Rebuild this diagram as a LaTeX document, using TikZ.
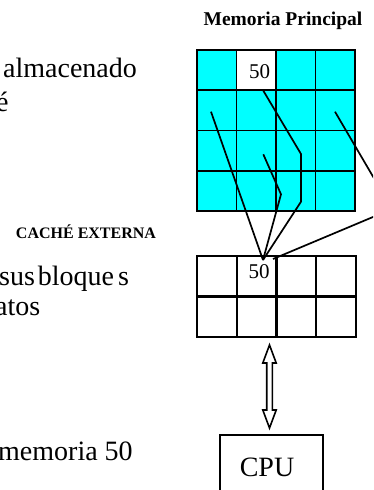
\documentclass[tikz,border=0pt]{standalone}
\usepackage{fontspec}
\setmainfont{Liberation Serif}
\definecolor{memcyan}{HTML}{00FFFF}
\begin{document}
\begin{tikzpicture}[x=1pt,y=-1pt,
  mcell/.style={draw, line width=1.8pt, minimum width=39.5pt, minimum height=40.25pt, inner sep=0pt},
  ccell/.style={draw, line width=2.2pt, minimum width=39.75pt, minimum height=40.5pt, inner sep=0pt, fill=white},
  link/.style={line width=1.7pt, line join=miter},
  bodytext/.style={inner sep=0pt, font=\fontsize{28}{33}\selectfont},
  numtext/.style={inner sep=0pt, font=\fontsize{21}{24}\selectfont},
  heading/.style={inner sep=0pt, font=\bfseries\fontsize{19.5}{22}\selectfont},
  subheading/.style={inner sep=0pt, font=\bfseries\fontsize{16}{18}\selectfont},
  busline/.style={line width=1.6pt, line join=miter, fill=white}]
\clip (0,0) rectangle (373,490);
\fill[white] (0,0) rectangle (373,490);

% main memory: 4x4 blocks, block 50 left unshaded
\foreach \r in {1,...,4}{\foreach \c in {1,...,4}{
  \ifnum\r\c=12 \def\cellfill{white}\else\def\cellfill{memcyan}\fi
  \node[mcell, fill=\cellfill] (m\r\c) at ({197+39.5*(\c-0.5)},{50+40.25*(\r-0.5)}) {};
}}
\node[numtext] (memnum) at (259.5,71.5) {50};

% external cache: 2x4 lines
\foreach \r in {1,2}{\foreach \c in {1,...,4}{
  \node[ccell] (k\r\c) at ({197+39.75*(\c-0.5)},{256+40.5*(\r-0.5)}) {};
}}
\node[numtext] (cachenum) at (259,272) {50};

% mapping of memory blocks onto cache line 50
\coordinate (hub) at (263,260);
\coordinate (hubr) at (273,259);
\coordinate (a0) at (263.3,90.7);
\coordinate (a1) at (301,154);
\coordinate (a2) at (301,201.7);
\coordinate (b0) at (263.3,154.3);
\coordinate (b1) at (281,194.3);
\coordinate (c0) at (211,111.7);
\coordinate (d0) at (335,111.7);
\coordinate (d1) at (392,209);
\draw[link] (a0) -- (a1) -- (a2) -- (hub);
\draw[link] (b0) -- (b1) -- (hub);
\draw[link] (c0) -- (hub);
\draw[link] (d0) -- (d1) -- (hubr);

% bus between cache and processor
\node[draw, line width=1.8pt, minimum width=103pt, minimum height=80pt, anchor=north west, inner sep=0pt] (cpu) at (219,434) {};
\node[bodytext] (cputext) at (267,467) {CPU};
\coordinate (bus) at (269.5,386.5);
\begin{scope}[shift={(bus)}]
\draw[busline] (0,-41.5) -- (6.7,-23.5) -- (2.8,-23.5) -- (2.8,23.5) -- (6.7,23.5) -- (0,41.5)
  -- (-6.7,23.5) -- (-2.8,23.5) -- (-2.8,-23.5) -- (-6.7,-23.5) -- cycle;
\end{scope}

% headings
\node[heading, anchor=base] (mphead) at (283,25) {Memoria Principal};
\node[subheading, anchor=base] (cehead) at (86,238) {CACHÉ EXTERNA};

% running text on the left
\node[bodytext, anchor=base west] (t1) at (3,77) {almacenado};
\node[bodytext, anchor=base west] (t2) at (-4,111) {é};
\node[bodytext, anchor=base west] (t3) at (-1,285) {sus\hspace{0.1em}bloque\hspace{0.15em}s};
\node[bodytext, anchor=base west] (t4) at (-5,315) {atos};
\node[bodytext, anchor=base west] (t5) at (-2,460) {memoria 50};
\end{tikzpicture}
\end{document}
